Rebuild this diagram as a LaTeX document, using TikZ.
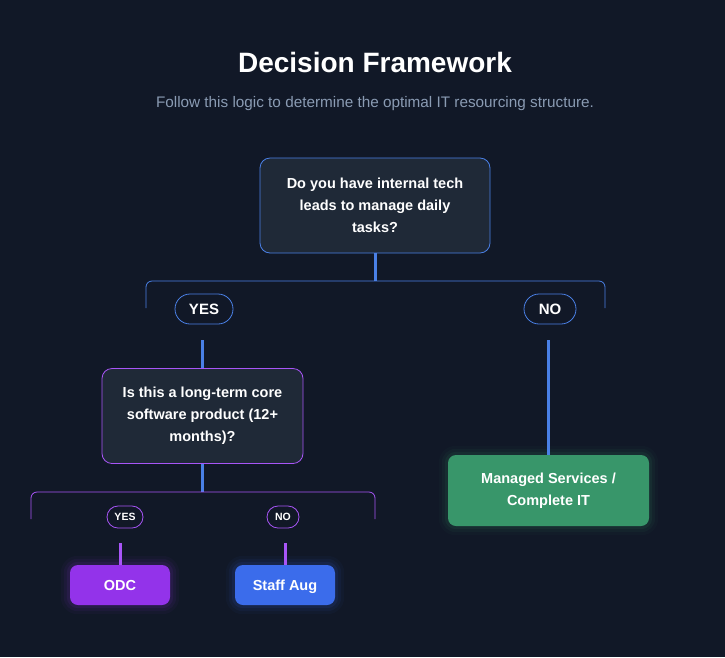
\documentclass[tikz,border=0pt]{standalone}
\usepackage{fontspec}
\setmainfont{Liberation Sans}
\usetikzlibrary{positioning,backgrounds}

\definecolor{pagebg}{HTML}{111827}
\definecolor{cardbg}{HTML}{1F2937}
\definecolor{lineblue}{HTML}{4A80E6}
\definecolor{linepurple}{HTML}{A855F7}
\definecolor{subgray}{HTML}{8A9BB3}
\definecolor{odcfill}{HTML}{9333EA}
\definecolor{stafffill}{HTML}{3B6CEB}
\definecolor{msfill}{HTML}{38966A}

\tikzset{
  question/.style={draw=#1, line width=0.8pt, fill=cardbg, rounded corners=10pt,
    inner sep=0pt, align=center, text=white,
    font=\bfseries\fontsize{14.5}{22}\selectfont},
  answer/.style={fill=#1, rounded corners=8pt, inner sep=0pt, align=center,
    text=white, font=\bfseries\fontsize{14.5}{22}\selectfont},
  shortanswer/.style={answer=#1, minimum width=100pt, minimum height=40pt,
    text height=12pt, text depth=1.5pt},
  bigpill/.style={draw=lineblue, line width=0.8pt, fill=pagebg, rounded corners=15pt,
    minimum height=30pt, inner sep=0pt, text=white, font=\bfseries\fontsize{15}{16}\selectfont},
  smallpill/.style={draw=linepurple, line width=0.8pt, fill=pagebg, rounded corners=11pt,
    minimum height=22pt, inner sep=0pt, text=white, font=\bfseries\fontsize{10.5}{12}\selectfont},
  stem/.style={draw=#1, line width=3pt},
  bracket/.style={draw=#1, line width=0.8pt, rounded corners=6pt},
}

\begin{document}
\begin{tikzpicture}[x=1pt,y=1pt]
\useasboundingbox (0,0) rectangle (725,-657);

% Heading
\node[text=white, font=\bfseries\fontsize{28}{32}\selectfont] (title) at (375,-62) {Decision Framework};
\node[text=subgray, font=\fontsize{15.3}{17}\selectfont] (subtitle) at (375,-104) {Follow this logic to determine the optimal IT resourcing structure.};

% First question
\node[question=lineblue, minimum width=230pt, minimum height=95pt] (q1) at (375,-205.5)
  {Do you have internal tech\\leads to manage daily\\tasks?};
\coordinate (q1fork) at (375,-281);
\coordinate (q1left) at (146,-308);
\coordinate (q1right) at (605,-308);
\draw[stem=lineblue] (q1.south) -- (q1fork);
\draw[bracket=lineblue] (q1left) |- (q1fork) -| (q1right);

\node[bigpill, minimum width=58pt] (yes1) at (204,-309) {YES};
\node[bigpill, minimum width=52pt] (no1) at (550,-309) {NO};

% Second question
\node[question=linepurple, minimum width=201pt, minimum height=95pt] (q2) at (202.5,-416)
  {Is this a long-term core\\software product (12+\\months)?};
\draw[stem=lineblue] ([yshift=-16pt]yes1.south -| q2.north) -- (q2.north);
\coordinate (q2fork) at (202.5,-492);
\coordinate (q2left) at (31,-519);
\coordinate (q2right) at (375,-519);
\draw[stem=lineblue] (q2.south) -- (q2fork);
\draw[bracket=linepurple] (q2left) |- (q2fork) -| (q2right);

\node[smallpill, minimum width=36pt] (yes2) at (125,-517) {YES};
\node[smallpill, minimum width=32pt] (no2) at (283,-517) {NO};

% Outcomes
\node[answer=msfill, minimum width=201pt, minimum height=71pt] (managed) at (548.5,-490.5)
  {Managed Services /\\Complete IT};
\node[shortanswer=odcfill] (odc) at (120,-585) {ODC};
\node[shortanswer=stafffill] (staff) at (285,-585) {Staff Aug};

\draw[stem=lineblue] ([yshift=-16pt]no1.south -| managed.north) -- (managed.north);
\draw[stem=linepurple] ([yshift=-15pt]yes2.south -| odc.north) -- (odc.north);
\draw[stem=linepurple] ([yshift=-15pt]no2.south -| staff.north) -- (staff.north);

% page and soft glow behind the outcome boxes
\begin{pgfonlayer}{background}
\fill[pagebg] (0,0) rectangle (725,-657);
\foreach \outc/\col in {managed/msfill, odc/odcfill, staff/stafffill} {
  \foreach \r/\o in {9/0.04, 6/0.06, 3/0.09} {
    \fill[\col, opacity=\o, rounded corners=8pt+\r pt]
      ([shift={(-\r pt,\r pt)}]\outc.north west) rectangle ([shift={(\r pt,-\r pt)}]\outc.south east);
  }
}
\end{pgfonlayer}
\end{tikzpicture}
\end{document}
